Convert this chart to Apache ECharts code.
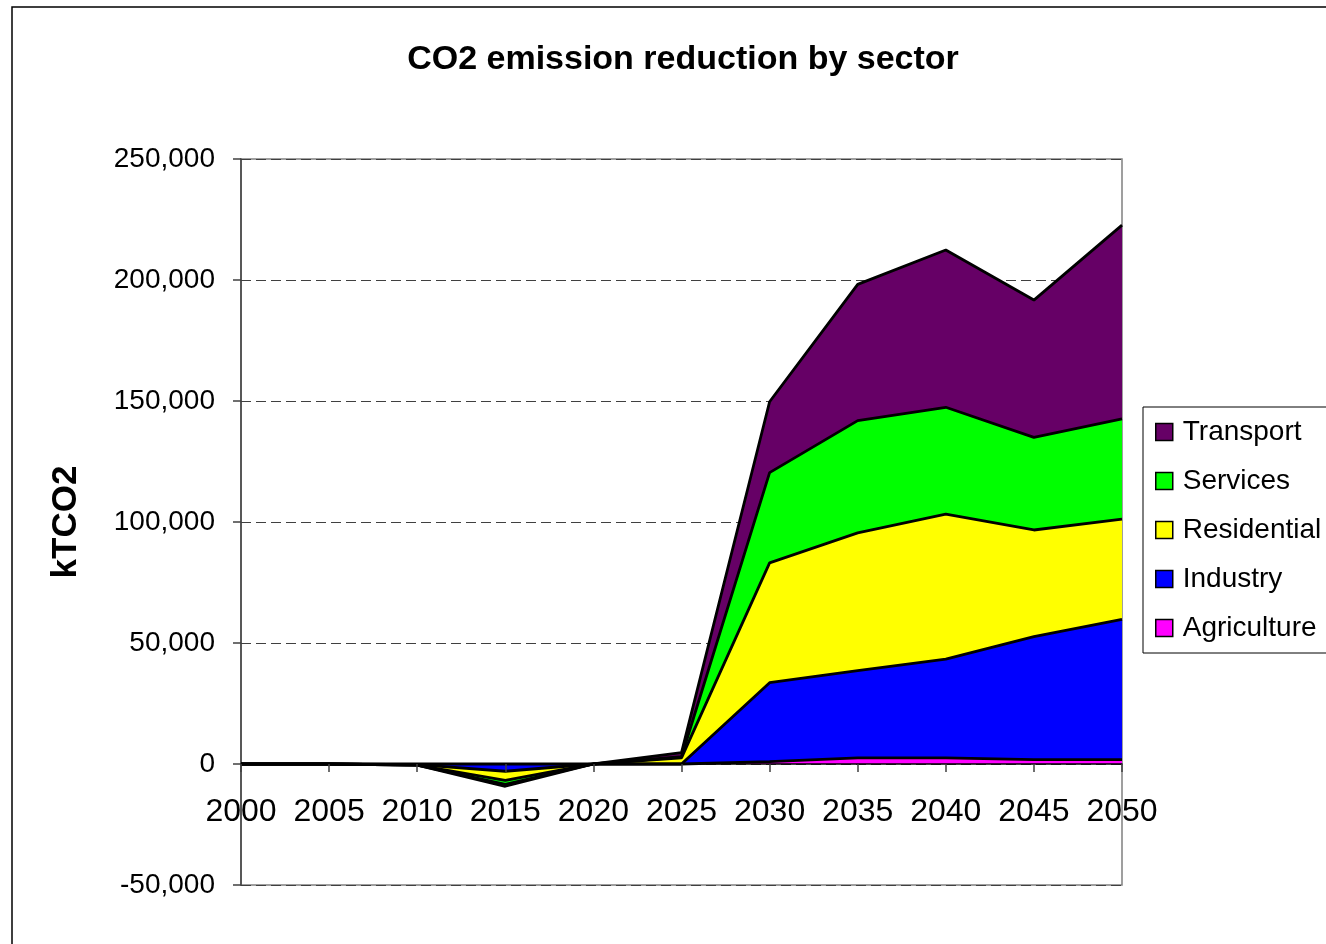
<!DOCTYPE html>
<html>
<head>
<meta charset="utf-8">
<title>CO2 emission reduction by sector</title>
<script src="https://cdn.jsdelivr.net/npm/echarts@6/dist/echarts.min.js"></script>
<style>
  html, body { margin: 0; padding: 0; background: #fff; }
  #chart { width: 1326px; height: 944px; }
</style>
</head>
<body>
<div id="chart"></div>
<script>
// Years on the horizontal axis
const years = ['2000', '2005', '2010', '2015', '2020', '2025', '2030', '2035', '2040', '2045', '2050'];

// Reduction per sector, kTCO2 (stacked bottom to top: agriculture .. transport)
const agriculture = [0, 0, 0, 0, 0, 0, 1000, 2500, 2500, 1800, 1800];
const industry    = [0, 0, -300, -3000, 0, 0, 32600, 36100, 40800, 50800, 58000];
const residential = [0, 0, -200, -3800, 0, 2500, 49500, 56900, 60000, 44100, 41400];
const services    = [0, 0, 0, -1600, 0, 500, 37300, 46400, 44100, 38300, 41400];
const transport   = [0, 0, 0, -800, 0, 1700, 29300, 56300, 65000, 56700, 80100];

// Value axis range and step
const yMin = -50000;
const yMax = 250000;
const yStep = 50000;

const sectors = [
  { name: 'Agriculture', data: agriculture, color: '#FF00FF' },
  { name: 'Industry',    data: industry,    color: '#0000FF' },
  { name: 'Residential', data: residential, color: '#FFFF00' },
  { name: 'Services',    data: services,    color: '#00FF00' },
  { name: 'Transport',   data: transport,   color: '#660066' }
];

const chart = echarts.init(document.getElementById('chart'), null, { renderer: 'canvas' });

const font = 'Liberation Sans, Arial, sans-serif';

chart.setOption({
  animation: false,
  backgroundColor: '#fff',
  textStyle: { fontFamily: font },
  graphic: [{
    type: 'rect',
    shape: { x: 12, y: 7, width: 1400, height: 1000 },
    style: { fill: 'none', stroke: '#000', lineWidth: 1.5 },
    z: -1
  }],
  title: {
    text: 'CO2 emission reduction by sector',
    left: 678,
    top: 38,
    textAlign: 'center',
    textStyle: { fontFamily: font, fontSize: 34, fontWeight: 'bold', color: '#000' }
  },
  legend: {
    orient: 'vertical',
    left: 1143,
    top: 407,
    padding: [10, 200, 10, 12],
    borderColor: '#000',
    borderWidth: 1,
    backgroundColor: '#fff',
    icon: 'rect',
    itemWidth: 17,
    itemHeight: 17,
    itemGap: 19,
    itemStyle: { borderColor: '#000', borderWidth: 1.5 },
    textStyle: { fontFamily: font, fontSize: 28, color: '#000', lineHeight: 30, padding: [0, 0, 0, 5] },
    data: ['Transport', 'Services', 'Residential', 'Industry', 'Agriculture']
  },
  grid: {
    left: 241,
    top: 159,
    right: 204,
    bottom: 59,
    show: true,
    borderColor: '#808080',
    borderWidth: 1.5,
    backgroundColor: '#fff'
  },
  xAxis: {
    type: 'category',
    data: years,
    boundaryGap: false,
    axisLine: { onZero: true, onZeroAxisIndex: 0, lineStyle: { color: '#000', width: 1.5 } },
    axisTick: { show: true, length: 8, interval: 0, lineStyle: { color: '#404040', width: 1.5 } },
    // labels sit just under the zero line
    axisLabel: { margin: -89, interval: 0, fontFamily: font, fontSize: 32, color: '#000' },
    splitLine: { show: false },
    z: 10
  },
  yAxis: {
    type: 'value',
    min: yMin,
    max: yMax,
    interval: yStep,
    name: 'kTCO2',
    nameLocation: 'middle',
    nameRotate: 90,
    nameGap: 157,
    nameTextStyle: { fontFamily: font, fontSize: 35, fontWeight: 'bold', color: '#000' },
    axisLine: { show: true, onZero: false, lineStyle: { color: '#404040', width: 1.5 } },
    axisTick: { show: true, length: 8, lineStyle: { color: '#404040', width: 1.5 } },
    axisLabel: {
      margin: 26,
      fontFamily: font,
      fontSize: 28,
      color: '#000',
      formatter: v => v.toLocaleString('en-US')
    },
    splitLine: { show: true, lineStyle: { color: '#404040', type: [10, 5], width: 1 } }
  },
  series: sectors.map(s => ({
    name: s.name,
    type: 'line',
    stack: 'total',
    data: s.data,
    symbol: 'none',
    color: s.color,
    itemStyle: { color: s.color },
    lineStyle: { color: '#000', width: 2.8 },
    areaStyle: { color: s.color, opacity: 1 }
  }))
});
</script>
</body>
</html>
